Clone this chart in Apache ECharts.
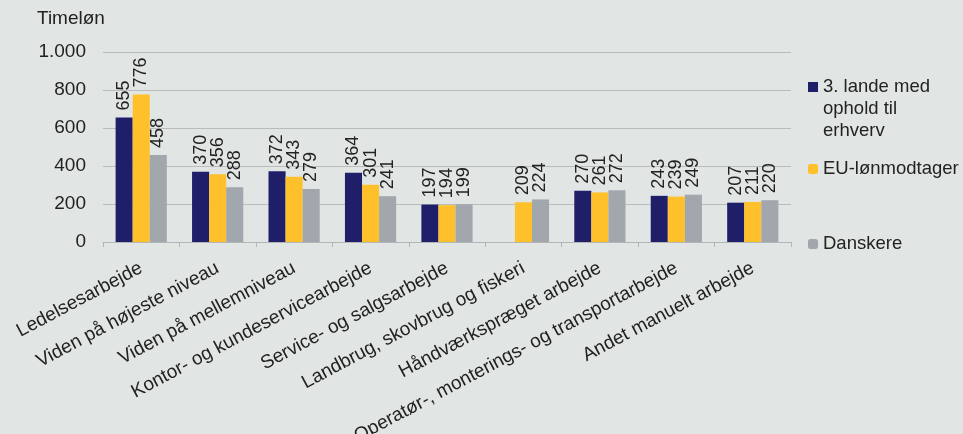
<!DOCTYPE html>
<html lang="da">
<head>
    <meta charset="UTF-8">
    <title>Timeløn</title>
    <script src="https://cdn.jsdelivr.net/npm/echarts@6/dist/echarts.min.js"></script>
    <style>
        html, body { margin: 0; padding: 0; background: #e1e6e5; }
        #chart { width: 963px; height: 434px; }
    </style>
</head>
<body>
<div id="chart"></div>
<script>
  // data
  var categories = [
    'Ledelsesarbejde', 'Viden på højeste niveau', 'Viden på mellemniveau',
    'Kontor- og kundeservicearbejde', 'Service- og salgsarbejde',
    'Landbrug, skovbrug og fiskeri', 'Håndværkspræget arbejde',
    'Operatør-, monterings- og transportarbejde', 'Andet manuelt arbejde'
  ];
  var seriesNames = ['3. lande med ophold til erhverv', 'EU-lønmodtager', 'Danskere'];
  var legendLabels = ['3. lande med\nophold til\nerhverv', 'EU-lønmodtager', 'Danskere'];
  var thirdCountry = [655, 370, 372, 364, 197, null, 270, 243, 207];
  var euWorkers = [776, 356, 343, 301, 194, 209, 261, 239, 211];
  var danes = [458, 288, 279, 241, 199, 224, 272, 249, 220];
  var yTicks = [0, 200, 400, 600, 800, 1000];

  var FONT = "'Liberation Sans', Arial, sans-serif";
  var colors = ['#1f1f69', '#fec02b', '#a1a7ac'];
  var seriesData = [thirdCountry, euWorkers, danes];

  function fmtThousand(v) {
    return String(v).replace(/\B(?=(\d{3})+(?!\d))/g, '.');
  }

  var series = seriesNames.map(function(name, i) {
    return {
      name: name,
      type: 'bar',
      barGap: 0,
      barCategoryGap: '33%',
      itemStyle: { color: colors[i] },
      label: {
        show: true,
        position: 'top',
        rotate: 90,
        align: 'left',
        verticalAlign: 'middle',
        distance: 7,
        color: '#222',
        fontSize: 18,
        fontFamily: FONT
      },
      data: seriesData[i]
    };
  });

  // legend: one block per series so the gaps match the picture
  var legendTops = [76, 158, 233];
  var legends = seriesNames.map(function(name, i) {
    var lg = {
      orient: 'vertical',
      left: 808,
      top: legendTops[i],
      padding: 0,
      selectedMode: false,
      itemWidth: 10,
      itemHeight: 10,
      itemGap: 0,
      formatter: function() { return legendLabels[i]; },
      textStyle: { color: '#222', fontSize: 18.5, fontFamily: FONT, lineHeight: 22 },
      data: [name]
    };
    if (i === 0) {
      // square at the first line of the three-line label
      lg.itemHeight = 66;
      lg.symbolKeepAspect = false;
      lg.data = [{ name: name, icon: 'path://M0,6h10v10h-10Z M0,0L10,0 M0,66L10,66' }];
    }
    return lg;
  });

  var options = {
    backgroundColor: '#e1e6e5',
    animation: false,
    title: {
      text: 'Timeløn',
      left: 37,
      top: 9,
      padding: 0,
      textStyle: { color: '#222', fontSize: 19, fontWeight: 'normal', fontFamily: FONT }
    },
    legend: legends,
    grid: { left: 103, right: 172, top: 52, bottom: 192, outerBoundsMode: 'none' },
    xAxis: {
      type: 'category',
      data: categories,
      boundaryGap: true,
      axisLine: { lineStyle: { color: '#b2b6b6', width: 1 } },
      axisTick: { show: true, length: 5, lineStyle: { color: '#b2b6b6' } },
      axisLabel: {
        interval: 0,
        rotate: 28,
        margin: 25,
        color: '#222',
        fontSize: 19,
        fontFamily: FONT
      }
    },
    yAxis: {
      type: 'value',
      min: yTicks[0],
      max: yTicks[yTicks.length - 1],
      interval: yTicks[1] - yTicks[0],
      axisLine: { show: false },
      axisTick: { show: false },
      axisLabel: {
        margin: 17,
        color: '#222',
        fontSize: 19,
        fontFamily: FONT,
        formatter: fmtThousand
      },
      splitLine: { lineStyle: { color: '#b8bcbc', width: 1 } }
    },
    series: series
  };

  var myChart = echarts.init(document.getElementById('chart'));
  myChart.setOption(options);
</script>
</body>
</html>
